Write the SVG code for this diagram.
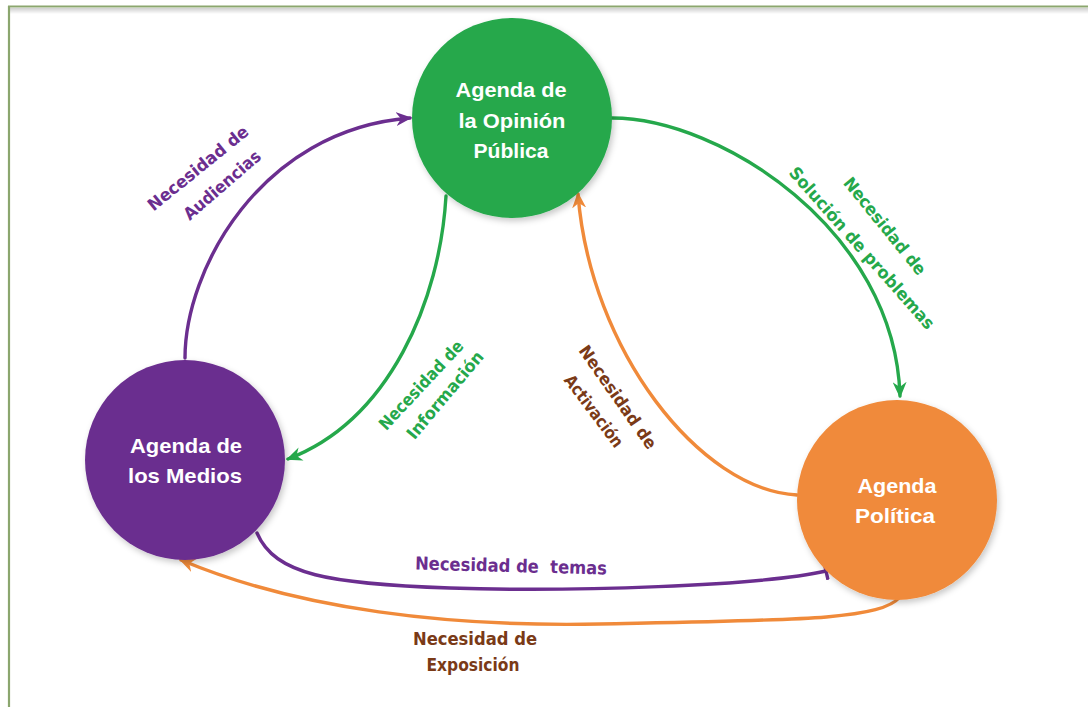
<svg xmlns="http://www.w3.org/2000/svg" width="1088" height="707" viewBox="0 0 1088 707">
<style>
.edge{fill:none;stroke-width:3.4;stroke-linecap:round}
.node-text{font-family:"Liberation Sans",Arial,sans-serif;font-weight:bold;font-size:21px;fill:#ffffff;text-anchor:middle}
.lbl{font-family:"DejaVu Sans","Liberation Sans",sans-serif;font-weight:bold;font-size:17px;text-anchor:middle}
.purple{fill:#6B2E8F}
.green{fill:#25A84B}
.brown{fill:#7A3A17}
</style>
<defs>
<linearGradient id="sh" x1="0" y1="0" x2="0" y2="1">
<stop offset="0" stop-color="#cfcfcf"/>
<stop offset="1" stop-color="#ffffff"/>
</linearGradient>
<filter id="ds" x="-20%" y="-20%" width="140%" height="140%">
<feDropShadow dx="2" dy="3" stdDeviation="3" flood-color="#000" flood-opacity="0.22"/>
</filter>
<marker id="aP" viewBox="0 0 16 14" refX="14" refY="7" markerWidth="16" markerHeight="14" markerUnits="userSpaceOnUse" orient="auto">
<path d="M0,0 L16,7 L0,14 L5,7 z" fill="#6B2E8F"/>
</marker>
<marker id="aG" viewBox="0 0 16 14" refX="14" refY="7" markerWidth="16" markerHeight="14" markerUnits="userSpaceOnUse" orient="auto">
<path d="M0,0 L16,7 L0,14 L5,7 z" fill="#25A84B"/>
</marker>
<marker id="aO" viewBox="0 0 16 14" refX="14" refY="7" markerWidth="16" markerHeight="14" markerUnits="userSpaceOnUse" orient="auto">
<path d="M0,0 L16,7 L0,14 L5,7 z" fill="#F08A3A"/>
</marker>
<marker id="tP" viewBox="0 0 6 18" refX="3" refY="9" markerWidth="6" markerHeight="18" markerUnits="userSpaceOnUse" orient="auto">
<path d="M3,0 L3,18" stroke="#6B2E8F" stroke-width="3.4"/>
</marker>
</defs>
<rect x="0" y="0" width="1088" height="707" fill="#ffffff"/>
<g id="frame">
<rect x="10" y="8" width="1078" height="6" fill="url(#sh)"/>
<line x1="8" y1="6.5" x2="1088" y2="6.5" stroke="#8BA66E" stroke-width="2.2"/>
<line x1="9" y1="6" x2="9" y2="707" stroke="#8BA66E" stroke-width="2.2"/>
</g>
<g id="connectors">
<path class="edge" stroke="#6B2E8F" d="M185,358 C185,270 260,130 410,118" marker-end="url(#aP)"/>
<path class="edge" stroke="#25A84B" d="M612,118 C720,118 895,230 900,396" marker-end="url(#aG)"/>
<path class="edge" stroke="#25A84B" d="M446,196 C440,300 390,420 288,459" marker-end="url(#aG)"/>
<path class="edge" stroke="#F08A3A" d="M797,495 C700,490 590,350 578,194" marker-end="url(#aO)"/>
<path class="edge" stroke="#6B2E8F" d="M257,533 C275,575 330,584 450,588 S760,586 826,571" marker-end="url(#tP)"/>
<path class="edge" stroke="#F08A3A" d="M900,597 C880,620 800,620 600,624 C450,627 300,610 181,560" marker-end="url(#aO)"/>
</g>
<g id="node-opinion">
<circle cx="512" cy="118" r="100" fill="#25A84B" filter="url(#ds)"/>
<text class="node-text" x="511" y="97" textLength="111" lengthAdjust="spacingAndGlyphs">Agenda de</text>
<text class="node-text" x="512" y="128" textLength="107" lengthAdjust="spacingAndGlyphs">la Opinión</text>
<text class="node-text" x="511" y="158" textLength="75" lengthAdjust="spacingAndGlyphs">Pública</text>
</g>
<g id="node-medios">
<circle cx="185" cy="460" r="100" fill="#6B2E8F" filter="url(#ds)"/>
<text class="node-text" x="186" y="453" textLength="112" lengthAdjust="spacingAndGlyphs">Agenda de</text>
<text class="node-text" x="185" y="483" textLength="114" lengthAdjust="spacingAndGlyphs">los Medios</text>
</g>
<g id="node-politica">
<circle cx="897" cy="500" r="100" fill="#F08A3A" filter="url(#ds)"/>
<text class="node-text" x="897" y="493" textLength="79" lengthAdjust="spacingAndGlyphs">Agenda</text>
<text class="node-text" x="895" y="523" textLength="80" lengthAdjust="spacingAndGlyphs">Política</text>
</g>
<g id="labels">
<text class="lbl purple" transform="translate(198,168) rotate(-39)" x="0" y="6" textLength="124" lengthAdjust="spacingAndGlyphs">Necesidad de</text>
<text class="lbl purple" transform="translate(222,185) rotate(-41)" x="0" y="6" textLength="96" lengthAdjust="spacingAndGlyphs">Audiencias</text>
<text class="lbl green" transform="translate(885,226) rotate(51)" x="0" y="6" textLength="120" lengthAdjust="spacingAndGlyphs">Necesidad de</text>
<text class="lbl green" transform="translate(862,248) rotate(48.5)" x="0" y="6" textLength="210" lengthAdjust="spacingAndGlyphs">Solución de problemas</text>
<text class="lbl green" transform="translate(421,385) rotate(-47)" x="0" y="6" textLength="115" lengthAdjust="spacingAndGlyphs">Necesidad de</text>
<text class="lbl green" transform="translate(445,395) rotate(-50)" x="0" y="6" textLength="109" lengthAdjust="spacingAndGlyphs">Información</text>
<text class="lbl brown" transform="translate(618,397) rotate(55)" x="0" y="6" textLength="122" lengthAdjust="spacingAndGlyphs">Necesidad de</text>
<text class="lbl brown" transform="translate(594,411) rotate(53)" x="0" y="6" textLength="86" lengthAdjust="spacingAndGlyphs">Activación</text>
<text class="lbl purple" transform="translate(511,566) rotate(1.5)" x="0" y="6" textLength="192" lengthAdjust="spacingAndGlyphs" style="font-size:18px;white-space:pre">Necesidad de  temas</text>
<text class="lbl brown" x="475" y="645" textLength="124" lengthAdjust="spacingAndGlyphs" style="font-size:18px">Necesidad de</text>
<text class="lbl brown" x="473" y="671" textLength="93" lengthAdjust="spacingAndGlyphs" style="font-size:18px">Exposición</text>
</g>
</svg>
